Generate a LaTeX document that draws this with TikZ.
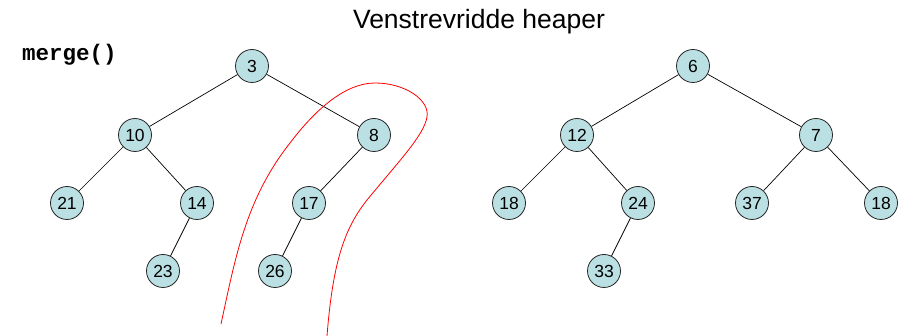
\documentclass[tikz,border=0pt]{standalone}
\usepackage{fontspec}
\setmainfont{Liberation Sans}
\setmonofont{Liberation Mono}
\definecolor{nodefill}{RGB}{187,224,227}
\begin{document}
\begin{tikzpicture}[x=1pt,y=-1pt,
  hnode/.style={circle,draw=black!85,line width=0.8pt,fill=nodefill,minimum size=33pt,inner sep=0pt,font=\fontsize{17.5}{17.5}\selectfont},
  edge/.style={draw=black,line width=0.7pt}]
\useasboundingbox (0,0) rectangle (906,336);
\node (title) at (479,22) {\fontsize{26.5}{26.5}\selectfont Venstrevridde heaper};
\node[anchor=west,inner sep=0pt] (merge) at (22,55) {\fontsize{22.5}{22.5}\selectfont\ttfamily\bfseries merge()};
% left tree
\node[hnode] (a3) at (252,66) {3};
\node[hnode] (a10) at (135,135) {10};
\node[hnode] (a8) at (374,135) {8};
\node[hnode] (a21) at (67,203) {21};
\node[hnode] (a14) at (197,203) {14};
\node[hnode] (a17) at (309,203) {17};
\node[hnode] (a23) at (163,271) {23};
\node[hnode] (a26) at (275,271) {26};
\draw[edge] (a3) -- (a10);
\draw[edge] (a3) -- (a8);
\draw[edge] (a10) -- (a21);
\draw[edge] (a10) -- (a14);
\draw[edge] (a14) -- (a23);
\draw[edge] (a8) -- (a17);
\draw[edge] (a17) -- (a26);
% right tree
\node[hnode] (b6) at (693,66) {6};
\node[hnode] (b12) at (577,135) {12};
\node[hnode] (b7) at (816,135) {7};
\node[hnode] (b18a) at (509,203) {18};
\node[hnode] (b24) at (638,203) {24};
\node[hnode] (b37) at (752,203) {37};
\node[hnode] (b18b) at (881,203) {18};
\node[hnode] (b33) at (604,271) {33};
\draw[edge] (b6) -- (b12);
\draw[edge] (b6) -- (b7);
\draw[edge] (b12) -- (b18a);
\draw[edge] (b12) -- (b24);
\draw[edge] (b24) -- (b33);
\draw[edge] (b7) -- (b37);
\draw[edge] (b7) -- (b18b);
% red curve
\draw[red,line width=0.8pt] (221,324) .. controls (235,260) and (245,200) .. (290,143)
  .. controls (315,110) and (345,83) .. (375,83)
  .. controls (405,83) and (430,100) .. (427,117)
  .. controls (424,135) and (400,160) .. (367,200)
  .. controls (345,228) and (333,260) .. (327,336);
\end{tikzpicture}
\end{document}
